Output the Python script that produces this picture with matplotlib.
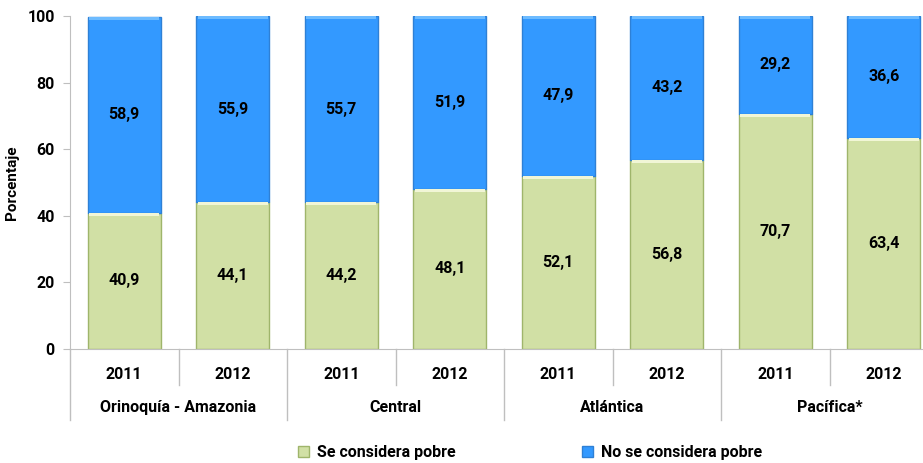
import matplotlib
matplotlib.use("Agg")
import matplotlib.pyplot as plt
from matplotlib.patches import Patch
import numpy as np

plt.rcParams["font.family"] = ["Roboto", "DejaVu Sans"]
plt.rcParams["font.weight"] = "bold"

regions = ["Orinoquía - Amazonia", "Central", "Atlántica", "Pacífica*"]
years = ["2011", "2012"]
se_considera = [40.9, 44.1, 44.2, 48.1, 52.1, 56.8, 70.7, 63.4]
no_se_considera = [58.9, 55.9, 55.7, 51.9, 47.9, 43.2, 29.2, 36.6]

GREEN, GREEN_EDGE, GREEN_TOP = "#D1E0A5", "#9FB56B", "#F1F6D6"
BLUE, BLUE_EDGE, BLUE_TOP = "#3399FF", "#2E80D6", "#6DBBFF"
GRID = "#BFBFBF"
FS = 11.5

fig = plt.figure(figsize=(9.23, 4.63), dpi=100)
ax = fig.add_axes([70 / 923, 114 / 463, 868 / 923, 333 / 463])

n = len(se_considera)
x = np.arange(n) + 0.5
w = 0.67
green = np.array(se_considera)
blue = np.array(no_se_considera)

ax.bar(x, green, w, color=GREEN, edgecolor=GREEN_EDGE, linewidth=1.0, zorder=2)
ax.bar(x, blue, w, bottom=green, color=BLUE, edgecolor=BLUE_EDGE, linewidth=1.0, zorder=2)
# thin bevel highlight along the top of each segment
ax.bar(x, 0.9, w * 0.96, bottom=green - 0.9, color=GREEN_TOP, linewidth=0, zorder=3)
ax.bar(x, 0.9, w * 0.96, bottom=green + blue - 0.9, color=BLUE_TOP, linewidth=0, zorder=3)

for xi, g, b in zip(x, green, blue):
    ax.text(xi, g / 2, f"{g:.1f}".replace(".", ","), ha="center", va="center",
            fontsize=FS, fontweight="bold", zorder=4)
    ax.text(xi, g + b / 2, f"{b:.1f}".replace(".", ","), ha="center", va="center",
            fontsize=FS, fontweight="bold", zorder=4)

ax.set_xlim(0, n)
ax.set_ylim(0, 100)
ax.set_yticks(range(0, 101, 20))
ax.set_xticks([])
ax.tick_params(axis="y", direction="out", length=5, color=GRID, labelsize=FS, pad=6)
for lab in ax.get_yticklabels():
    lab.set_fontweight("bold")
for side in ("top", "right"):
    ax.spines[side].set_visible(False)
for side in ("left", "bottom"):
    ax.spines[side].set_color(GRID)
ax.set_ylabel("Porcentaje", fontsize=11, fontweight="bold")
ax.yaxis.set_label_coords(-0.059, 0.5)

# two-level category axis
trans = ax.get_xaxis_transform()
for i in range(n + 1):
    low = -0.213 if i % 2 == 0 else -0.108
    ax.plot([i, i], [0, low], color=GRID, lw=1.0, transform=trans, clip_on=False)
for i, xi in enumerate(x):
    ax.text(xi, -0.078, years[i % 2], transform=trans, ha="center", va="center",
            fontsize=FS, fontweight="bold")
for j, reg in enumerate(regions):
    ax.text(2 * j + 1, -0.177, reg, transform=trans, ha="center", va="center",
            fontsize=FS, fontweight="bold")

handles = [Patch(facecolor=GREEN, edgecolor=GREEN_EDGE, label="Se considera pobre"),
           Patch(facecolor=BLUE, edgecolor=BLUE_EDGE, label="No se considera pobre")]
fig.legend(handles=handles, loc="center", bbox_to_anchor=(0.574, 0.022), ncol=2,
           frameon=False, fontsize=FS, handlelength=0.7, handleheight=0.7,
           handletextpad=0.5, columnspacing=7.9)

fig.savefig("out.png", dpi=100)
